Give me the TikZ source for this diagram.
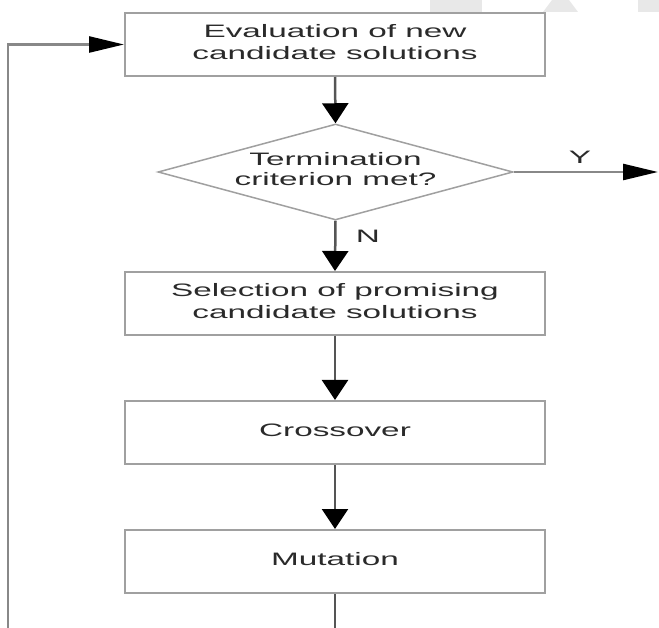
\documentclass[tikz,border=0pt]{standalone}
\usepackage{fontspec}
\setmainfont{Liberation Sans}
\usetikzlibrary{arrows.meta,shapes.geometric}
\definecolor{boxline}{HTML}{A0A0A0}
\definecolor{shaft}{HTML}{555555}
\definecolor{loopc}{HTML}{888888}
\definecolor{txt}{HTML}{2A2A2A}
\definecolor{wm}{HTML}{E8E8E8}
\newcommand{\wtxt}[1]{\scalebox{1.85}[1]{\begin{tabular}{@{}c@{}}#1\end{tabular}}}
\tikzset{
  procbox/.style={draw=boxline, line width=2pt, fill=white, minimum width=420pt, minimum height=63pt, inner sep=0pt, text=txt, font=\fontsize{18}{22}\selectfont},
  decbox/.style={draw=boxline, line width=1.5pt, fill=white, shape=diamond, aspect=3.7, minimum width=355pt, minimum height=96pt, inner sep=0pt, text=txt, font=\fontsize{18}{20}\selectfont},
  lbl/.style={text=txt, font=\fontsize{18}{20}\selectfont, inner sep=0pt},
  varr/.style={draw=shaft, line width=2.5pt, -{Triangle[length=20pt,width=26pt,color=black]}},
  harr/.style={draw=loopc, line width=2.5pt, -{Triangle[length=35pt,width=16pt,color=black]}},
  plain/.style={draw=shaft, line width=2.5pt},
}
\begin{document}
\begin{tikzpicture}[x=1pt,y=-1pt]
\useasboundingbox (0,0) rectangle (659,628);
% faint watermark fragments
\fill[wm] (430,0) rectangle (482,12);
\fill[wm] (543,12) -- (578,12) -- (569,0) -- (552,0) -- cycle;
\fill[wm] (638,0) rectangle (659,12);

\node[procbox] (eval) at (335,44.5) {\wtxt{Evaluation of new\\candidate solutions}};
\node[decbox] (term) at (335.5,172) {\wtxt{Termination\\criterion met?}};
\node[procbox] (sel) at (335,303.5) {\wtxt{Selection of promising\\candidate solutions}};
\node[procbox] (cross) at (335,432.5) {\wtxt{Crossover}};
\node[procbox] (mut) at (335,561.5) {\wtxt{Mutation}};

\node[lbl] (ylbl) at (580,157) {\scalebox{1.85}[1]{Y}};
\node[lbl] (nlbl) at (368,236) {\scalebox{1.85}[1]{N}};

\coordinate (yend) at (658,172);
\coordinate (loopbot) at (8,628);
\coordinate (mutbot) at (335,628);

\draw[varr] (eval.south) -- (term.north);
\draw[harr] (term.east) -- (yend);
\draw[varr] (term.south) -- (sel.north);
\draw[varr] (sel.south) -- (cross.north);
\draw[varr] (cross.south) -- (mut.north);
\draw[plain] (mut.south) -- (mutbot);
\draw[harr] (loopbot) |- (eval.west);
\end{tikzpicture}
\end{document}
